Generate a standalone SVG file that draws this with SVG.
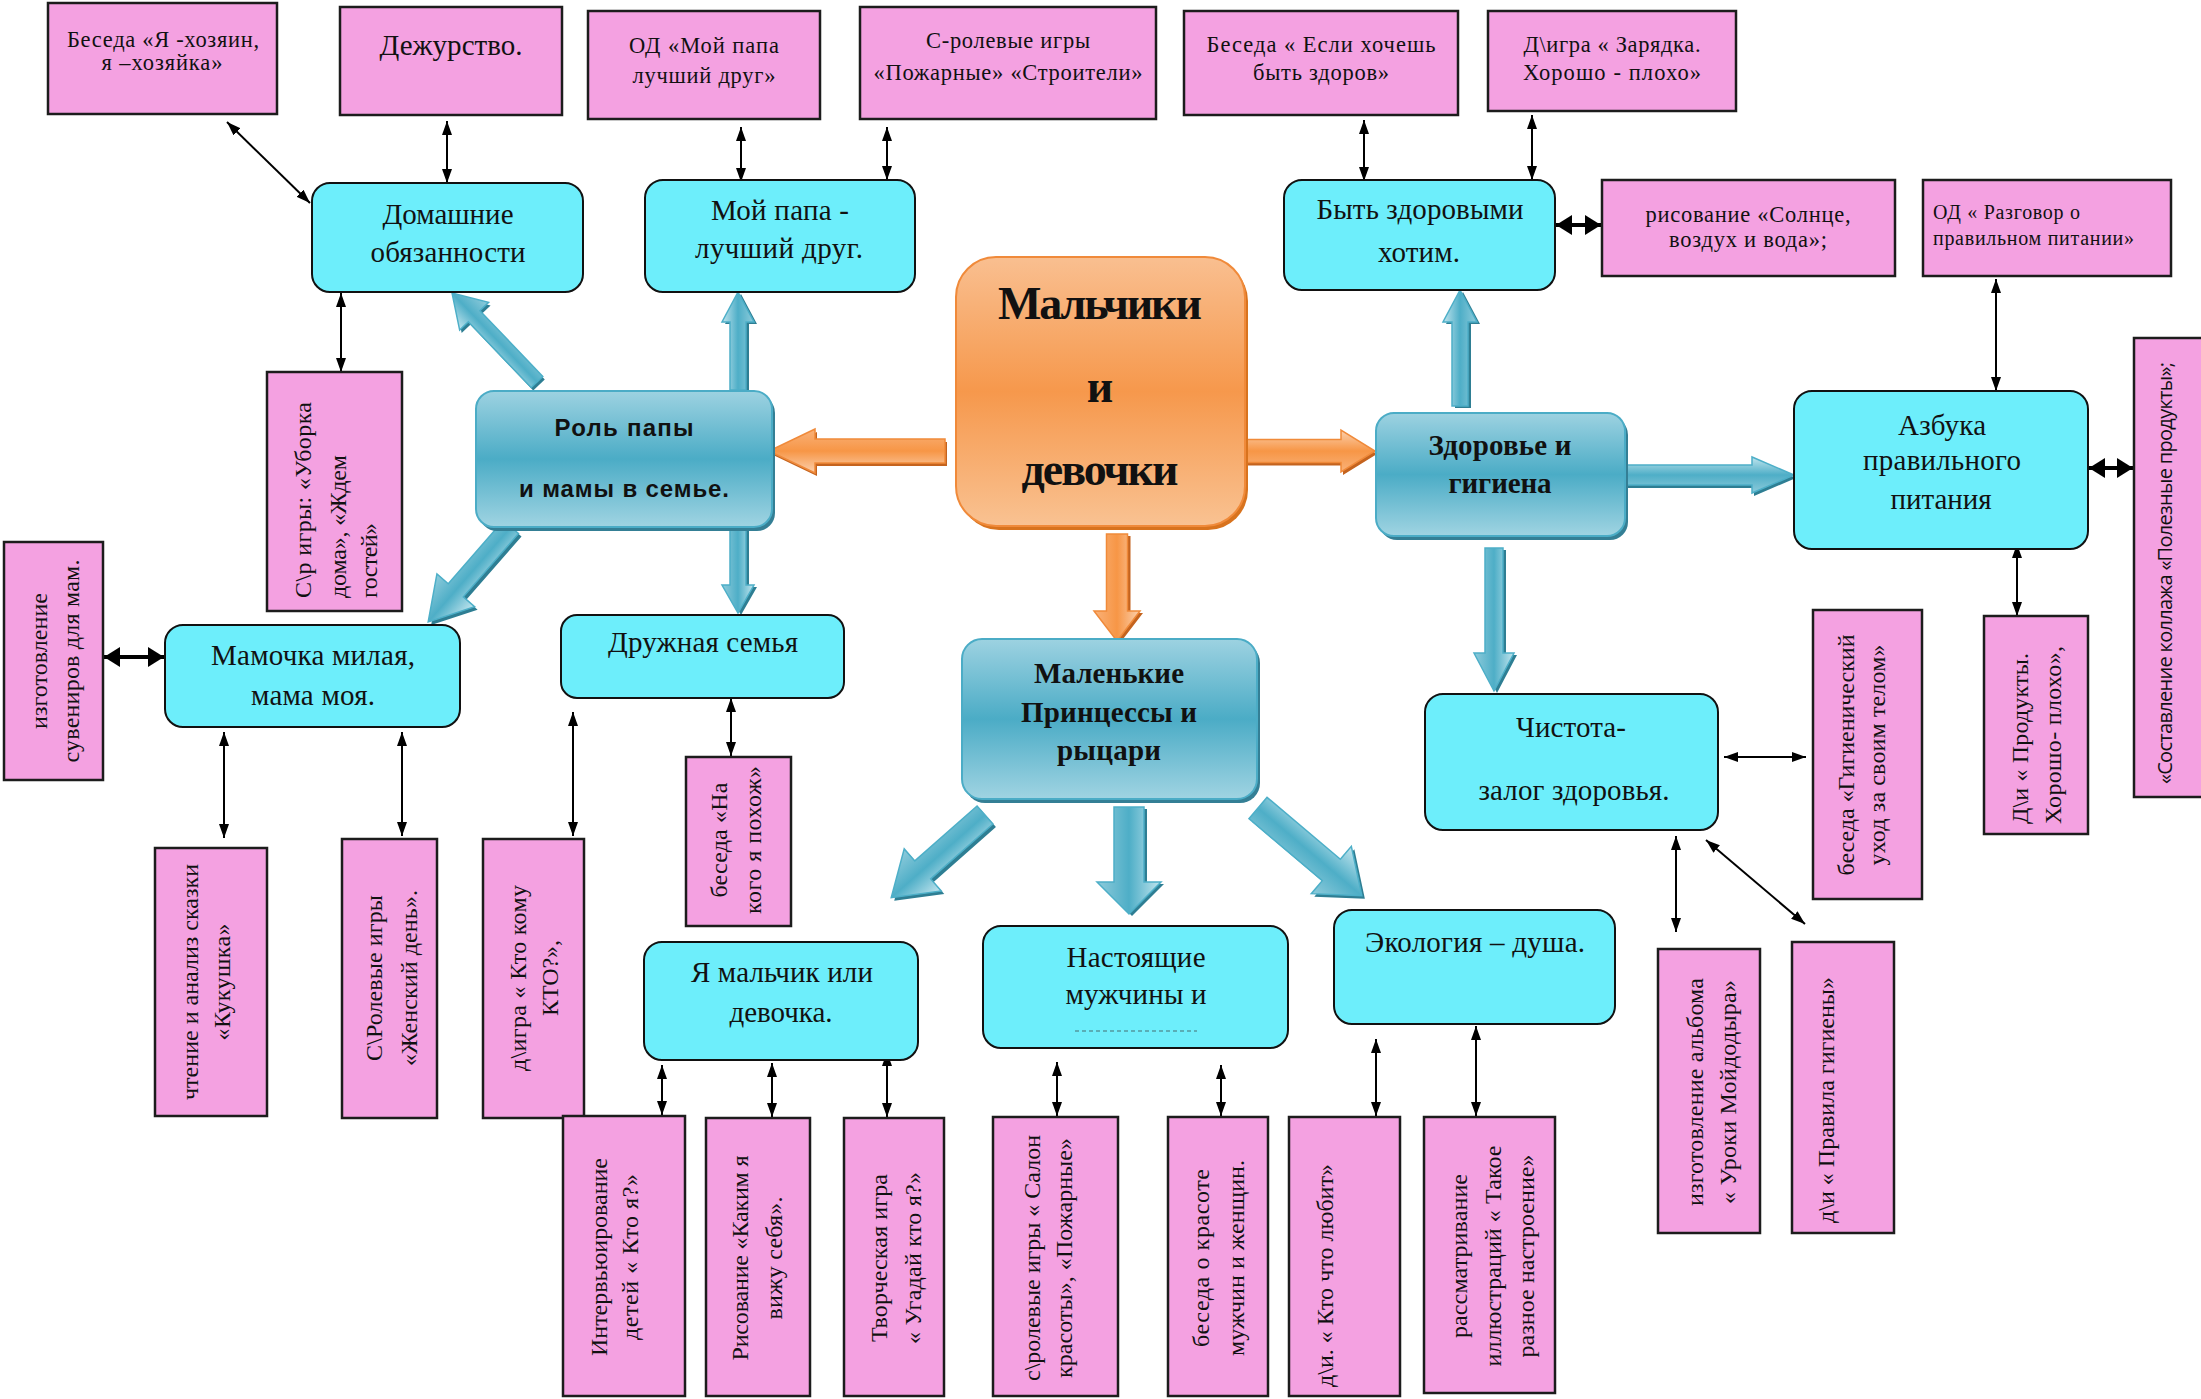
<svg xmlns="http://www.w3.org/2000/svg" width="2201" height="1399" viewBox="0 0 2201 1399">
<defs>
<style>
.t{font-family:"Liberation Serif","Times New Roman",serif;fill:#111}
.sa{font-family:"Liberation Sans",Arial,sans-serif;fill:#111}
.os{font-family:"Open Sans","DejaVu Sans",sans-serif;fill:#111}
.m{text-anchor:middle}
.st{text-anchor:start}
.f19{font-size:20px}
.f21{font-size:22.5px}
.f22{font-size:24px}
.f26{font-size:29px}
.fb{font-size:29px}
.fr{font-size:24px}
.b{font-weight:bold}
.pk{fill:#F4A1E1;stroke:#1c1c1c;stroke-width:2.5}
.cy{fill:#6DEEFB;stroke:#111;stroke-width:2}
.bx{fill:url(#gb);stroke:#4BACC6;stroke-width:2}
.bxs{fill:#347F95}
.ba{fill:url(#ga);stroke:#4DAFC8;stroke-width:1.5}
.bas{fill:#2E7E93}
.oa{fill:url(#go);stroke:#F08A3A;stroke-width:1.5}
.oas{fill:#C4631E}
#connectors line{stroke:#000;stroke-width:2;fill:none;marker-start:url(#ah);marker-end:url(#ah)}
#connectors line.k{stroke-width:4;marker-start:url(#ahb);marker-end:url(#ahb)}
</style>
<linearGradient id="gb" x1="0" y1="0" x2="0" y2="1">
<stop offset="0" stop-color="#9DD2E1"/><stop offset="0.5" stop-color="#4BACC6"/><stop offset="1" stop-color="#A0D4E2"/>
</linearGradient>
<linearGradient id="gor" x1="0" y1="0" x2="0" y2="1">
<stop offset="0" stop-color="#F9BF90"/><stop offset="0.5" stop-color="#F6984C"/><stop offset="1" stop-color="#F9C292"/>
</linearGradient>
<linearGradient id="ga" x1="0" y1="0" x2="0" y2="1">
<stop offset="0" stop-color="#C2E5EE"/><stop offset="0.5" stop-color="#4EAEC7"/><stop offset="1" stop-color="#8ECBDB"/>
</linearGradient>
<linearGradient id="go" x1="0" y1="0" x2="0" y2="1">
<stop offset="0" stop-color="#FBD0AE"/><stop offset="0.5" stop-color="#F79646"/><stop offset="1" stop-color="#F9B27A"/>
</linearGradient>
<marker id="ah" viewBox="0 0 14 10" refX="14" refY="5" markerWidth="14" markerHeight="10" markerUnits="userSpaceOnUse" orient="auto-start-reverse"><path d="M0,0L14,5L0,10z" fill="#000"/></marker>
<marker id="ahb" viewBox="0 0 16 20" refX="16" refY="10" markerWidth="16" markerHeight="20" markerUnits="userSpaceOnUse" orient="auto-start-reverse"><path d="M0,0L16,10L0,20z" fill="#000"/></marker>
<path id="a1" d="M0,-8H91V-20L123,0L91,20V8H0Z"/>
<path id="a2" d="M0,-8H68V-16L98,0L68,16V8H0Z"/>
<path id="a3" d="M0,-10H84V-25L126,0L84,25V10H0Z"/>
<path id="a4" d="M0,-8H58V-16L86,0L58,16V8H0Z"/>
<path id="a5" d="M0,-12H83V-28L125,0L83,28V12H0Z"/>
<path id="a6" d="M0,-15H75V-32L107,0L75,32V15H0Z"/>
<path id="a7" d="M0,-14H96V-31L136,0L96,31V14H0Z"/>
<path id="a8" d="M0,-8H84V-17L116,0L84,17V8H0Z"/>
<path id="a9" d="M0,-9H105V-20L143,0L105,20V9H0Z"/>
<path id="a10" d="M0,-10H127V-18L169,0L127,18V10H0Z"/>
<path id="a11" d="M0,-12H130V-22L176,0L130,22V12H0Z"/>
<path id="a12" d="M0,-11.5H95V-21L129,0L95,21V11.5H0Z"/>
<path id="a13" d="M0,-10.5H77V-23L107,0L77,23V10.5H0Z"/>
</defs>
<rect width="2201" height="1399" fill="#fff"/>

<!-- block arrows -->
<g id="block-arrows">
<use href="#a1" class="bas" transform="translate(539,385) rotate(-133.7)"/>
<use href="#a1" class="ba" transform="translate(537,382) rotate(-133.7)"/>
<use href="#a2" class="bas" transform="translate(741,392) rotate(-90)"/>
<use href="#a2" class="ba" transform="translate(738,390) rotate(-90)"/>
<use href="#a3" class="bas" transform="translate(514,530) rotate(131.1)"/>
<use href="#a3" class="ba" transform="translate(511,527) rotate(131.1)"/>
<use href="#a4" class="bas" transform="translate(741,529) rotate(90)"/>
<use href="#a4" class="ba" transform="translate(738,527) rotate(90)"/>
<use href="#a5" class="bas" transform="translate(988,818) rotate(138.6)"/>
<use href="#a5" class="ba" transform="translate(985,815) rotate(138.6)"/>
<use href="#a6" class="bas" transform="translate(1132,809) rotate(90)"/>
<use href="#a6" class="ba" transform="translate(1129,807) rotate(90)"/>
<use href="#a7" class="bas" transform="translate(1261,811) rotate(40.2)"/>
<use href="#a7" class="ba" transform="translate(1258,808) rotate(40.2)"/>
<use href="#a8" class="bas" transform="translate(1463,408) rotate(-90)"/>
<use href="#a8" class="ba" transform="translate(1460,406) rotate(-90)"/>
<use href="#a9" class="bas" transform="translate(1497,550) rotate(90)"/>
<use href="#a9" class="ba" transform="translate(1494,548) rotate(90)"/>
<use href="#a10" class="bas" transform="translate(1627,478) rotate(0)"/>
<use href="#a10" class="ba" transform="translate(1625,475) rotate(0)"/>
<use href="#a11" class="oas" transform="translate(947,454) rotate(180)"/>
<use href="#a11" class="oa" transform="translate(945,451) rotate(180)"/>
<use href="#a12" class="oas" transform="translate(1248,454) rotate(0)"/>
<use href="#a12" class="oa" transform="translate(1246,451) rotate(0)"/>
<use href="#a13" class="oas" transform="translate(1120,536) rotate(90)"/>
<use href="#a13" class="oa" transform="translate(1117,534) rotate(90)"/>
</g>

<!-- connectors -->
<g id="connectors">
<line x1="227" y1="122" x2="310" y2="203"/>
<line x1="447" y1="121" x2="447" y2="183"/>
<line x1="741" y1="127" x2="741" y2="182"/>
<line x1="887" y1="127" x2="887" y2="180"/>
<line x1="341" y1="293" x2="341" y2="372"/>
<line x1="224" y1="732" x2="224" y2="838"/>
<line x1="402" y1="732" x2="402" y2="836"/>
<line x1="573" y1="712" x2="573" y2="836"/>
<line x1="731" y1="698" x2="731" y2="756"/>
<line x1="662" y1="1065" x2="662" y2="1115"/>
<line x1="772" y1="1063" x2="772" y2="1117"/>
<line x1="887" y1="1052" x2="887" y2="1117"/>
<line x1="1057" y1="1062" x2="1057" y2="1116"/>
<line x1="1221" y1="1065" x2="1221" y2="1116"/>
<line x1="1376" y1="1039" x2="1376" y2="1116"/>
<line x1="1476" y1="1026" x2="1476" y2="1116"/>
<line x1="1676" y1="836" x2="1676" y2="932"/>
<line x1="1706" y1="840" x2="1805" y2="924"/>
<line x1="1364" y1="120" x2="1364" y2="181"/>
<line x1="1532" y1="115" x2="1532" y2="180"/>
<line x1="1996" y1="279" x2="1996" y2="391"/>
<line x1="2017" y1="544" x2="2017" y2="616"/>
<line x1="1724" y1="757" x2="1806" y2="757"/>
<line class="k" x1="1556" y1="225" x2="1601" y2="225"/>
<line class="k" x1="104" y1="657" x2="164" y2="657"/>
<line class="k" x1="2089" y1="468" x2="2133" y2="468"/>
</g>

<!-- top pink -->
<g id="n-p1"><rect class="pk" x="48" y="3" width="229" height="111"/>
<text class="t m f21" x="163" y="47" textLength="192">Беседа «Я -хозяин,</text>
<text class="t m f21" x="162" y="70" textLength="121">я –хозяйка»</text></g>
<g id="n-p2"><rect class="pk" x="340" y="7" width="222" height="108"/>
<text class="t m" font-size="29" x="451" y="55" textLength="143">Дежурство.</text></g>
<g id="n-p3"><rect class="pk" x="588" y="11" width="232" height="108"/>
<text class="t m f21" x="704" y="53" textLength="150">ОД «Мой папа</text>
<text class="t m f21" x="704" y="83" textLength="143">лучший друг»</text></g>
<g id="n-p4"><rect class="pk" x="860" y="7" width="296" height="112"/>
<text class="t m f21" x="1008" y="48" textLength="164">С-ролевые игры</text>
<text class="t m f21" x="1008" y="80" textLength="269">«Пожарные» «Строители»</text></g>
<g id="n-p5"><rect class="pk" x="1184" y="11" width="274" height="104"/>
<text class="t m f21" x="1321" y="52" textLength="229">Беседа  « Если хочешь</text>
<text class="t m f21" x="1321" y="80" textLength="136">быть здоров»</text></g>
<g id="n-p6"><rect class="pk" x="1488" y="11" width="248" height="100"/>
<text class="t m f21" x="1612" y="52" textLength="177">Д\игра « Зарядка.</text>
<text class="t m f21" x="1612" y="80" textLength="178">Хорошо - плохо»</text></g>
<g id="n-p7"><rect class="pk" x="1602" y="180" width="293" height="96"/>
<text class="t m f21" x="1748" y="222" textLength="205">рисование «Солнце,</text>
<text class="t m f21" x="1748" y="247" textLength="158">воздух и вода»;</text></g>
<g id="n-p8"><rect class="pk" x="1923" y="180" width="248" height="96"/>
<text class="t st f19" x="1933" y="219" textLength="147">ОД « Разговор о</text>
<text class="t st f19" x="1933" y="245" textLength="201">правильном питании»</text></g>

<!-- cyan nodes -->
<g id="n-domashnie"><rect class="cy" x="312" y="183" width="271" height="109" rx="18"/>
<text class="t m f26" x="448" y="224" textLength="131">Домашние</text>
<text class="t m f26" x="448" y="262" textLength="155">обязанности</text></g>
<g id="n-papa"><rect class="cy" x="645" y="180" width="270" height="112" rx="18"/>
<text class="t m f26" x="780" y="220" textLength="138">Мой папа -</text>
<text class="t m f26" x="779" y="258" textLength="168">лучший друг.</text></g>
<g id="n-byt"><rect class="cy" x="1284" y="180" width="271" height="110" rx="18"/>
<text class="t m f26" x="1420" y="219" textLength="207">Быть здоровыми</text>
<text class="t m f26" x="1419" y="262" textLength="82">хотим.</text></g>
<g id="n-mamochka"><rect class="cy" x="165" y="625" width="295" height="102" rx="18"/>
<text class="t m f26" x="313" y="665" textLength="204">Мамочка милая,</text>
<text class="t m f26" x="313" y="705" textLength="124">мама моя.</text></g>
<g id="n-druzhnaya"><rect class="cy" x="561" y="615" width="283" height="83" rx="16"/>
<text class="t m f26" x="703" y="652" textLength="190">Дружная семья</text></g>
<g id="n-malchik"><rect class="cy" x="644" y="942" width="274" height="118" rx="18"/>
<text class="t m f26" x="782" y="982" textLength="182">Я мальчик или</text>
<text class="t m f26" x="781" y="1022" textLength="103">девочка.</text></g>
<g id="n-nastoyashchie"><rect class="cy" x="983" y="926" width="305" height="122" rx="18"/>
<text class="t m f26" x="1136" y="967" textLength="139">Настоящие</text>
<text class="t m f26" x="1136" y="1004" textLength="141">мужчины и</text>
<line x1="1075" y1="1031" x2="1197" y2="1031" stroke="#333" stroke-width="1.5" stroke-dasharray="4,3" opacity="0.45"/></g>
<g id="n-ekologiya"><rect class="cy" x="1334" y="910" width="281" height="114" rx="18"/>
<text class="t m f26" x="1475" y="952" textLength="220">Экология – душа.</text></g>
<g id="n-chistota"><rect class="cy" x="1425" y="694" width="293" height="136" rx="18"/>
<text class="t m f26" x="1571" y="737" textLength="110">Чистота-</text>
<text class="t m f26" x="1574" y="800" textLength="191">залог здоровья.</text></g>
<g id="n-azbuka"><rect class="cy" x="1794" y="391" width="294" height="158" rx="18"/>
<text class="t m f26" x="1942" y="435" textLength="88">Азбука</text>
<text class="t m f26" x="1942" y="470" textLength="158">правильного</text>
<text class="t m f26" x="1941" y="509" textLength="101">питания</text></g>

<!-- gradient nodes -->
<g id="n-rol"><rect class="bxs" x="479" y="395" width="296" height="136" rx="18"/>
<rect class="bx" x="476" y="391" width="296" height="136" rx="18"/>
<text class="sa m b fr" x="624" y="436" textLength="139">Роль  папы</text>
<text class="sa m b fr" x="624" y="497" textLength="210">и мамы в семье.</text></g>
<g id="n-zdorovie"><rect class="bxs" x="1379" y="417" width="249" height="123" rx="18"/>
<rect class="bx" x="1376" y="413" width="249" height="123" rx="18"/>
<text class="t m b fb" x="1500" y="455" textLength="143">Здоровье и</text>
<text class="t m b fb" x="1500" y="493" textLength="103">гигиена</text></g>
<g id="n-malenkie"><rect class="bxs" x="965" y="643" width="295" height="160" rx="20"/>
<rect class="bx" x="962" y="639" width="295" height="160" rx="20"/>
<text class="t m b fb" x="1109" y="683" textLength="150">Маленькие</text>
<text class="t m b fb" x="1109" y="722" textLength="176">Принцессы и</text>
<text class="t m b fb" x="1109" y="760" textLength="104">рыцари</text></g>
<g id="n-center"><rect x="959" y="261" width="289" height="269" rx="40" fill="#D8731E"/>
<rect x="956" y="257" width="289" height="269" rx="40" fill="url(#gor)" stroke="#F08A3A" stroke-width="2"/>
<text class="t m b" font-size="46" x="1100" y="319" textLength="204">Мальчики</text>
<text class="t m b" font-size="46" x="1100" y="402">и</text>
<text class="t m b" font-size="46" x="1100" y="485" textLength="157">девочки</text></g>

<!-- vertical pink -->
<g id="n-uborka"><rect class="pk" x="267" y="372" width="135" height="239"/>
<text class="t st f22" transform="translate(311,598) rotate(-90)" textLength="196">С\р  игры: «Уборка</text>
<text class="t st f22" transform="translate(346,598) rotate(-90)" textLength="143">дома», «Ждем</text>
<text class="t st f22" transform="translate(377,598) rotate(-90)" textLength="75">гостей»</text></g>
<g id="n-suveniry"><rect class="pk" x="4" y="542" width="99" height="238"/>
<text class="t m f22" transform="translate(47,661) rotate(-90)" textLength="136">изготовление</text>
<text class="t m f22" transform="translate(79,661) rotate(-90)" textLength="203">сувениров  для мам.</text></g>
<g id="n-chtenie"><rect class="pk" x="155" y="848" width="112" height="268"/>
<text class="t m f22" transform="translate(198,982) rotate(-90)" textLength="236">чтение и анализ сказки</text>
<text class="t m f22" transform="translate(230,982) rotate(-90)" textLength="117">«Кукушка»</text></g>
<g id="n-zhenskiy"><rect class="pk" x="342" y="839" width="95" height="279"/>
<text class="t m f22" transform="translate(382,978) rotate(-90)" textLength="166">С\Ролевые игры</text>
<text class="t m f22" transform="translate(417,978) rotate(-90)" textLength="176">«Женский день».</text></g>
<g id="n-ktokomu"><rect class="pk" x="483" y="839" width="101" height="279"/>
<text class="t m f22" transform="translate(526,978) rotate(-90)" textLength="186">д\игра « Кто кому</text>
<text class="t m f22" transform="translate(558,978) rotate(-90)" textLength="76">КТО?»,</text></g>
<g id="n-pohozh"><rect class="pk" x="686" y="757" width="105" height="169"/>
<text class="t m f22" transform="translate(727,840) rotate(-90)" textLength="115">беседа «На</text>
<text class="t m f22" transform="translate(761,840) rotate(-90)" textLength="148">кого я похож»</text></g>
<g id="n-intervyu"><rect class="pk" x="563" y="1116" width="122" height="280"/>
<text class="t m f22" transform="translate(607,1257) rotate(-90)" textLength="198">Интервьюирование</text>
<text class="t m f22" transform="translate(638,1257) rotate(-90)" textLength="166">детей  « Кто я?»</text></g>
<g id="n-risovanie"><rect class="pk" x="706" y="1118" width="104" height="278"/>
<text class="t m f22" transform="translate(748,1258) rotate(-90)" textLength="205">Рисование «Каким я</text>
<text class="t m f22" transform="translate(782,1258) rotate(-90)" textLength="123">вижу себя».</text></g>
<g id="n-tvorcheskaya"><rect class="pk" x="844" y="1118" width="100" height="278"/>
<text class="t m f22" transform="translate(887,1258) rotate(-90)" textLength="168">Творческая игра</text>
<text class="t m f22" transform="translate(921,1258) rotate(-90)" textLength="172">« Угадай кто я?»</text></g>
<g id="n-salon"><rect class="pk" x="993" y="1117" width="125" height="279"/>
<text class="t m f22" transform="translate(1040,1258) rotate(-90)" textLength="246">с\ролевые игры « Салон</text>
<text class="t m f22" transform="translate(1072,1258) rotate(-90)" textLength="240">красоты», «Пожарные»</text></g>
<g id="n-krasota"><rect class="pk" x="1168" y="1117" width="100" height="279"/>
<text class="t m f22" transform="translate(1209,1258) rotate(-90)" textLength="178">беседа  о красоте</text>
<text class="t m f22" transform="translate(1244,1258) rotate(-90)" textLength="196">мужчин и женщин.</text></g>
<g id="n-ktochto"><rect class="pk" x="1289" y="1117" width="111" height="279"/>
<text class="t st f22" transform="translate(1333,1387) rotate(-90)" textLength="223">д\и. « Кто что любит»</text></g>
<g id="n-nastroenie"><rect class="pk" x="1424" y="1117" width="131" height="276"/>
<text class="t m f22" transform="translate(1467,1256) rotate(-90)" textLength="164">рассматривание</text>
<text class="t m f22" transform="translate(1501,1256) rotate(-90)" textLength="221">иллюстраций « Такое</text>
<text class="t m f22" transform="translate(1534,1256) rotate(-90)" textLength="203">разное настроение»</text></g>
<g id="n-albom"><rect class="pk" x="1658" y="949" width="102" height="284"/>
<text class="t m f22" transform="translate(1703,1092) rotate(-90)" textLength="228">изготовление альбома</text>
<text class="t m f22" transform="translate(1736,1092) rotate(-90)" textLength="224">« Уроки Мойдодыра»</text></g>
<g id="n-pravila"><rect class="pk" x="1792" y="942" width="102" height="291"/>
<text class="t st f22" transform="translate(1834,1223) rotate(-90)" textLength="246">д\и « Правила гигиены»</text></g>
<g id="n-gigiena"><rect class="pk" x="1813" y="610" width="109" height="289"/>
<text class="t m f22" transform="translate(1854,755) rotate(-90)" textLength="241">беседа «Гигиенический</text>
<text class="t m f22" transform="translate(1885,755) rotate(-90)" textLength="221">уход за своим телом»</text></g>
<g id="n-produkty"><rect class="pk" x="1984" y="616" width="104" height="218"/>
<text class="t st f22" transform="translate(2028,824) rotate(-90)" textLength="171">Д\и « Продукты.</text>
<text class="t st f22" transform="translate(2061,824) rotate(-90)" textLength="178">Хорошо- плохо»,</text></g>
<g id="n-kollazh"><rect class="pk" x="2134" y="338" width="80" height="459"/>
<text class="os st f19" transform="translate(2172,784) rotate(-90)" textLength="422">«Составление  коллажа «Полезные продукты»;</text></g>
</svg>
